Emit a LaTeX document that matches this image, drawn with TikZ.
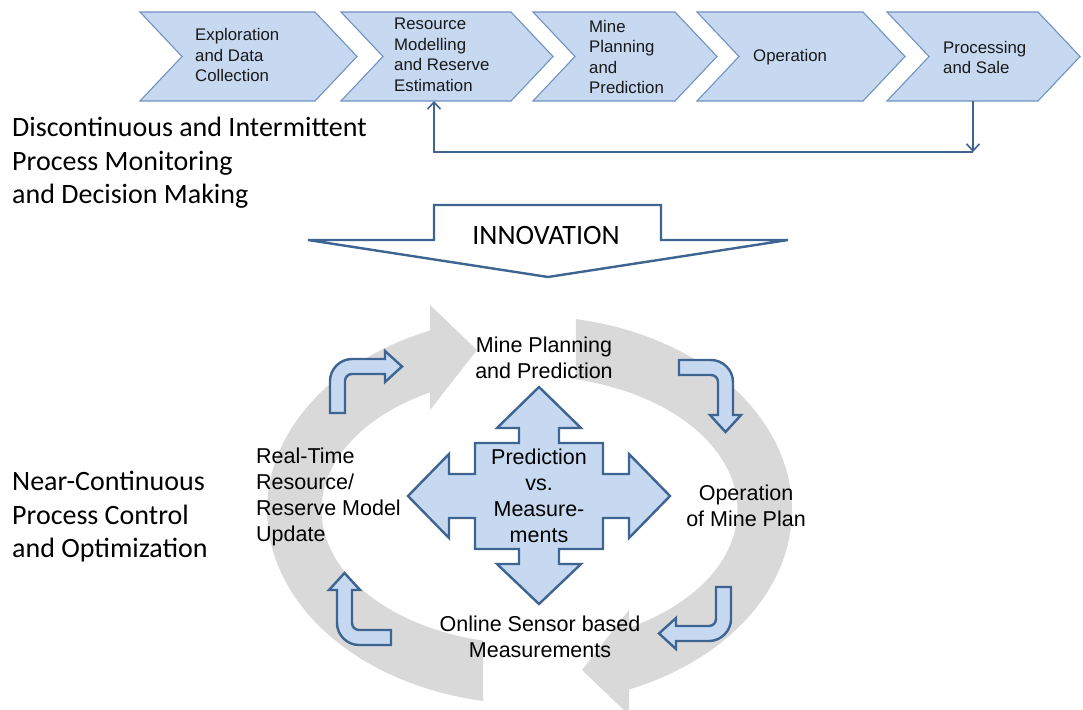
\documentclass[tikz,border=0pt]{standalone}
\usepackage{fontspec}
\setmainfont{Liberation Sans}
\newfontfamily\calfont{Carlito}
\usetikzlibrary{arrows.meta}
\definecolor{chevfill}{RGB}{198,217,241}
\definecolor{chevline}{RGB}{112,146,194}
\definecolor{darkblue}{RGB}{62,100,146}
\definecolor{ringgrey}{RGB}{217,217,217}
\begin{document}
\begin{tikzpicture}[x=1pt,y=-1pt,
  chevron/.style={fill=chevfill,draw=chevline,line width=1.1pt,line join=miter},
  chevtext/.style={font=\fontsize{16.8}{20.5}\selectfont,align=left,anchor=west,inner sep=0pt,text=black!90},
  fb/.style={draw=darkblue,line width=1.8pt,-{Straight Barb[length=7pt,width=13pt,line width=1.6pt]}},
  innov/.style={fill=white,draw=darkblue,line width=2.4pt,line join=miter},
  lefttext/.style={font=\calfont\fontsize{28}{33.5}\selectfont,align=left,anchor=west,inner sep=0pt},
  cyc/.style={font=\fontsize{21.5}{26}\selectfont,align=center,inner sep=0pt},
  bentarrow/.style={fill=chevfill,draw=darkblue,line width=2.4pt,line join=miter},
  quad/.style={fill=chevfill,draw=darkblue,line width=2.4pt,line join=miter},
  bent/.pic={\path[bentarrow] (0,54) -- (0,22) .. controls (0,10) and (10,0) .. (22,0) -- (55,0) -- (55,-8) -- (72,7.5) -- (55,23) -- (55,15) -- (22,15) .. controls (18.1,15) and (15,18.1) .. (15,22) -- (15,54) -- cycle;}
]
\useasboundingbox (0,0) rectangle (1083,709);

% ---- process chevrons ----
\path[chevron] (140,12) -- (315,12) -- (357,56.5) -- (315,101) -- (140,101) -- (182,56.5) -- cycle;
\path[chevron] (341,12) -- (511,12) -- (553,56.5) -- (511,101) -- (341,101) -- (383,56.5) -- cycle;
\path[chevron] (533,12) -- (675,12) -- (717,56.5) -- (675,101) -- (533,101) -- (575,56.5) -- cycle;
\path[chevron] (697,12) -- (863,12) -- (905,56.5) -- (863,101) -- (697,101) -- (739,56.5) -- cycle;
\path[chevron] (887,12) -- (1038,12) -- (1080,56.5) -- (1038,101) -- (887,101) -- (929,56.5) -- cycle;

\node[chevtext] (t1) at (195,55) {Exploration\\and Data\\Collection};
\node[chevtext] (t2) at (394,55) {Resource\\Modelling\\and Reserve\\Estimation};
\node[chevtext] (t3) at (589,57) {Mine\\Planning\\and\\Prediction};
\node[chevtext] (t4) at (753,57) {Operation};
\node[chevtext] (t5) at (943,57.5) {Processing\\and Sale};

% ---- feedback connector ----
\coordinate (c2b) at (434,101);
\coordinate (c5b) at (973,101);
\coordinate (fbR) at (973,152);
\coordinate (fbL) at (434,152);
\draw[fb] (c5b) -- (fbR);
\draw[fb] (fbR) -- (fbL) -- (c2b);

% ---- left labels ----
\node[lefttext] (disc) at (12,163) {Discontinuous and Intermittent\\Process Monitoring\\and Decision Making};
\node[lefttext] (near) at (12,517) {Near-Continuous\\Process Control\\and Optimization};

% ---- innovation arrow ----
\path[innov] (434,205) -- (661,205) -- (661,240) -- (788,240) -- (548,277) -- (308,240) -- (434,240) -- cycle;
\node[font=\calfont\fontsize{28}{32}\selectfont,inner sep=0pt] (inn) at (546,236) {INNOVATION};

% ---- grey cycle ring ----
\fill[ringgrey] plot[domain=100.2:247.7,samples=60] ({529.5+262.5*cos(\x)},{510+194*sin(\x)})
  -- (430,305) -- (477,350) -- (430,410)
  -- plot[domain=241.4:102.9,samples=60] ({529.5+208*cos(\x)},{510+134*sin(\x)}) -- cycle;
\begin{scope}[rotate around={180:(529.5,510)}]
\fill[ringgrey] plot[domain=100.2:247.7,samples=60] ({529.5+262.5*cos(\x)},{510+194*sin(\x)})
  -- (430,305) -- (477,350) -- (430,410)
  -- plot[domain=241.4:102.9,samples=60] ({529.5+208*cos(\x)},{510+134*sin(\x)}) -- cycle;
\end{scope}

% ---- bent arrows ----
\pic at (330,359) {bent};
\pic[rotate=-90] at (733,360) {bent};
\pic[rotate=180] at (731,641) {bent};
\pic[rotate=90] at (337,645) {bent};

% ---- quad arrow ----
\path[quad] (539,387) -- (581,428) -- (559,428) -- (559,443) -- (603,443) -- (603,474) -- (629,474) -- (629,454)
  -- (670,496) -- (629,538) -- (629,518) -- (603,518) -- (603,549) -- (559,549) -- (559,564) -- (581,564)
  -- (539,604) -- (497,564) -- (519,564) -- (519,549) -- (475,549) -- (475,518) -- (449,518) -- (449,538)
  -- (408,496) -- (449,454) -- (449,474) -- (475,474) -- (475,443) -- (519,443) -- (519,428) -- (497,428) -- cycle;

% ---- cycle labels ----
\node[cyc] (pvm) at (539,496) {Prediction\\vs.\\Measure-\\ments};
\node[cyc] (mpp) at (544,358) {Mine Planning\\and Prediction};
\node[cyc] (omp) at (746,506) {Operation\\of Mine Plan};
\node[cyc] (osm) at (540,637) {Online Sensor based\\Measurements};
\node[cyc,align=left,anchor=west] (rtr) at (256,497) {Real-Time\\Resource/\\Reserve Model\\Update};
\end{tikzpicture}
\end{document}
